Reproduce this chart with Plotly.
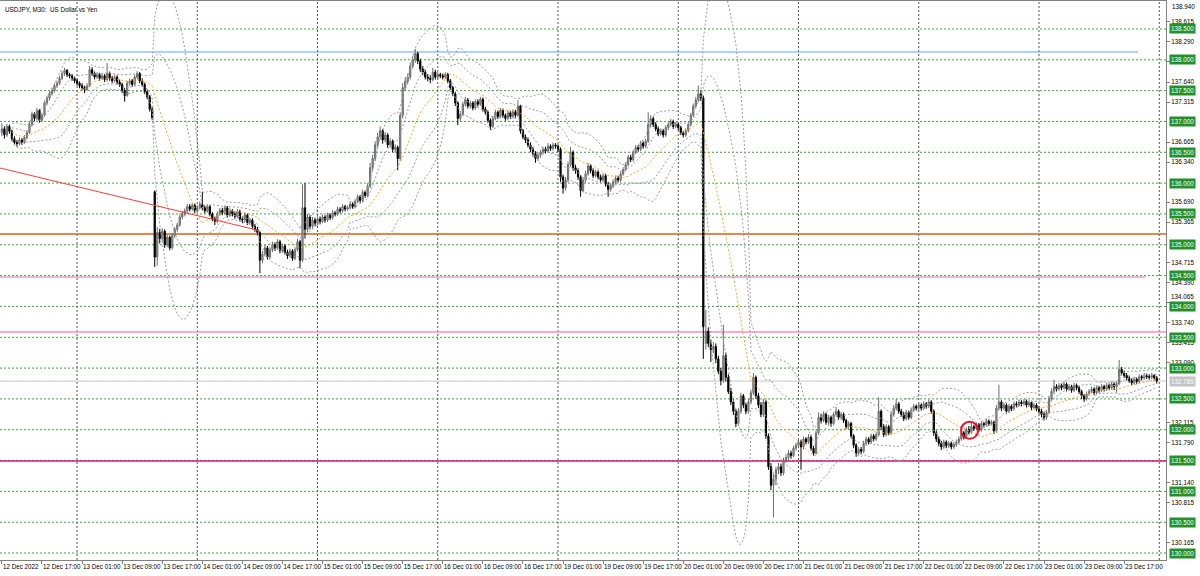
import pandas as pd
import plotly.graph_objects as go

# ---------------- data (USDJPY M30, 12 Dec 2022 09:00 -> 23 Dec 2022 23:30) ----------------
opens = [
    # 12 Dec
    136.82,136.88,136.78,136.92,136.84,136.72,136.66,136.64,136.70,136.66,
    136.74,136.82,136.95,137.12,137.05,137.18,137.02,137.10,137.30,137.38,
    137.45,137.50,137.58,137.62,137.70,137.78,137.83,137.76,137.74,137.70,
    # 13 Dec
    137.66,137.62,137.58,137.55,137.52,137.58,137.84,137.78,137.72,137.76,
    137.70,137.74,137.68,137.78,137.70,137.66,137.72,137.64,137.60,137.50,
    137.42,137.62,137.66,137.60,137.72,137.78,137.66,137.60,137.48,137.40,
    137.20,135.86,134.80,135.20,135.10,135.22,135.00,135.12,134.95,135.15,
    135.25,135.32,135.45,135.50,135.55,135.62,135.58,135.64,
    # 14 Dec
    135.55,135.60,
    135.66,135.60,135.55,135.62,135.50,135.42,135.38,135.50,135.56,135.52,
    135.60,135.48,135.55,135.50,135.46,135.54,135.42,135.40,135.48,135.36,
    135.40,135.30,135.25,135.20,134.75,134.85,134.95,134.80,134.92,135.00,
    134.95,135.05,134.90,134.98,134.88,134.82,134.90,134.78,134.92,135.05,
    134.75,135.60,135.25,135.45,135.30,135.40,
    # 15 Dec
    135.35,135.42,135.38,135.45,
    135.40,135.48,135.44,135.52,135.50,135.58,135.55,135.62,135.58,135.60,
    135.66,135.62,135.70,135.78,135.72,135.85,135.80,135.95,136.25,136.40,
    136.62,136.75,136.85,136.70,136.78,136.62,136.68,136.55,136.58,136.40,
    137.10,137.55,137.65,137.72,137.90,138.00,138.10,137.98,137.85,137.80,
    137.72,137.70,137.68,137.80,
    # 16 Dec
    137.72,137.76,137.74,137.72,137.76,137.66,
    137.55,137.45,137.30,137.05,137.12,137.28,137.35,137.25,137.30,137.22,
    137.32,137.28,137.36,137.20,137.15,137.02,136.92,137.05,137.15,137.08,
    137.18,137.10,137.05,137.14,137.08,137.16,137.10,137.25,136.85,136.75,
    136.70,136.62,136.55,136.48,136.40,136.45,136.50,136.55,136.52,136.60,
    136.56,136.62,
    # 19 Dec
    136.60,136.55,136.10,135.92,136.05,136.30,136.50,136.25,
    136.20,136.10,135.88,136.05,136.15,136.28,136.20,136.12,136.18,136.10,
    136.05,136.12,135.98,135.90,135.95,136.02,136.08,136.05,136.15,136.22,
    136.30,136.42,136.38,136.50,136.58,136.55,136.65,136.60,136.68,136.95,
    137.05,136.95,136.88,136.80,136.85,136.78,136.90,136.95,137.00,136.92,
    # 20 Dec
    136.95,136.90,136.82,136.78,136.85,136.95,137.10,137.25,137.35,137.45,
    137.38,133.40,133.60,133.40,133.30,133.35,133.15,132.95,132.80,133.20,
    132.85,132.62,132.45,132.30,132.10,132.30,132.55,132.40,132.30,132.45,
    132.60,132.85,132.55,132.40,132.25,132.45,131.90,131.40,131.10,131.20,
    131.35,131.40,131.30,131.50,131.55,131.62,131.58,131.70,
    # 21 Dec
    131.75,131.80,
    131.72,131.85,131.80,131.88,131.70,131.62,131.95,132.20,132.15,132.25,
    132.12,132.20,132.10,132.25,132.30,132.20,132.25,132.15,132.05,132.10,
    131.90,131.75,131.62,131.68,131.65,131.78,131.85,131.80,131.90,131.85,
    131.92,132.30,132.05,131.92,132.05,131.95,132.25,132.35,132.42,132.30,
    132.25,132.18,132.28,132.20,132.32,132.38,
    # 22 Dec
    132.35,132.40,132.35,132.42,
    132.38,132.45,132.30,131.95,131.85,131.78,131.72,131.80,131.74,131.78,
    131.72,131.76,131.80,131.85,131.95,131.88,132.00,131.96,132.05,132.02,
    132.08,132.00,132.10,132.08,132.14,132.10,132.12,131.98,132.35,132.45,
    132.35,132.40,132.30,132.38,132.34,132.42,132.40,132.45,132.42,132.46,
    132.40,132.44,132.36,132.40,
    # 23 Dec
    132.34,132.30,132.25,132.20,132.28,132.50,
    132.62,132.70,132.66,132.72,132.68,132.74,132.66,132.70,132.64,132.72,
    132.68,132.62,132.55,132.50,132.58,132.62,132.66,132.60,132.68,132.64,
    132.70,132.66,132.72,132.68,132.74,132.70,132.75,132.98,132.92,132.88,
    132.84,132.80,132.76,132.82,132.78,132.86,132.84,132.88,132.86,132.85,
    132.88,132.84,
]

closes = [
    # 12 Dec
    136.88,136.78,136.92,136.84,136.72,136.66,136.64,136.70,136.66,136.74,
    136.82,136.95,137.12,137.05,137.18,137.02,137.10,137.30,137.38,137.45,
    137.50,137.58,137.62,137.70,137.78,137.83,137.76,137.74,137.70,137.66,
    # 13 Dec
    137.62,137.58,137.55,137.52,137.58,137.84,137.78,137.72,137.76,137.70,
    137.74,137.68,137.78,137.70,137.66,137.72,137.64,137.60,137.50,137.42,
    137.62,137.66,137.60,137.72,137.78,137.66,137.60,137.48,137.40,137.20,
    137.06,134.80,135.20,135.10,135.22,135.00,135.12,134.95,135.15,135.25,
    135.32,135.45,135.50,135.55,135.62,135.58,135.64,135.55,
    # 14 Dec
    135.60,135.66,
    135.60,135.55,135.62,135.50,135.42,135.38,135.50,135.56,135.52,135.60,
    135.48,135.55,135.50,135.46,135.54,135.42,135.40,135.48,135.36,135.40,
    135.30,135.25,135.20,134.75,134.85,134.95,134.80,134.92,135.00,134.95,
    135.05,134.90,134.98,134.88,134.82,134.90,134.78,134.92,135.05,134.75,
    135.60,135.25,135.45,135.30,135.40,135.35,
    # 15 Dec
    135.42,135.38,135.45,135.40,
    135.48,135.44,135.52,135.50,135.58,135.55,135.62,135.58,135.60,135.66,
    135.62,135.70,135.78,135.72,135.85,135.80,135.95,136.25,136.40,136.62,
    136.75,136.85,136.70,136.78,136.62,136.68,136.55,136.58,136.40,137.10,
    137.55,137.65,137.72,137.90,138.00,138.10,137.98,137.85,137.80,137.72,
    137.70,137.68,137.80,137.72,
    # 16 Dec
    137.76,137.74,137.72,137.76,137.66,137.55,
    137.45,137.30,137.05,137.12,137.28,137.35,137.25,137.30,137.22,137.32,
    137.28,137.36,137.20,137.15,137.02,136.92,137.05,137.15,137.08,137.18,
    137.10,137.05,137.14,137.08,137.16,137.10,137.25,136.85,136.75,136.70,
    136.62,136.55,136.48,136.40,136.45,136.50,136.55,136.52,136.60,136.56,
    136.62,136.60,
    # 19 Dec
    136.55,136.10,135.92,136.05,136.30,136.50,136.25,136.20,
    136.10,135.88,136.05,136.15,136.28,136.20,136.12,136.18,136.10,136.05,
    136.12,135.98,135.90,135.95,136.02,136.08,136.05,136.15,136.22,136.30,
    136.42,136.38,136.50,136.58,136.55,136.65,136.60,136.68,136.95,137.05,
    136.95,136.88,136.80,136.85,136.78,136.90,136.95,137.00,136.92,136.95,
    # 20 Dec
    136.90,136.82,136.78,136.85,136.95,137.10,137.25,137.35,137.45,137.38,
    133.67,133.60,133.40,133.30,133.35,133.15,132.95,132.80,133.20,132.85,
    132.62,132.45,132.30,132.10,132.30,132.55,132.40,132.30,132.45,132.60,
    132.85,132.55,132.40,132.25,132.45,131.90,131.40,131.10,131.20,131.35,
    131.40,131.30,131.50,131.55,131.62,131.58,131.70,131.75,
    # 21 Dec
    131.80,131.72,
    131.85,131.80,131.88,131.70,131.62,131.95,132.20,132.15,132.25,132.12,
    132.20,132.10,132.25,132.30,132.20,132.25,132.15,132.05,132.10,131.90,
    131.75,131.62,131.68,131.65,131.78,131.85,131.80,131.90,131.85,131.92,
    132.30,132.05,131.92,132.05,131.95,132.25,132.35,132.42,132.30,132.25,
    132.18,132.28,132.20,132.32,132.38,132.35,
    # 22 Dec
    132.40,132.35,132.42,132.38,
    132.45,132.30,131.95,131.85,131.78,131.72,131.80,131.74,131.78,131.72,
    131.76,131.80,131.85,131.95,131.88,132.00,131.96,132.05,132.02,132.08,
    132.00,132.10,132.08,132.14,132.10,132.12,131.98,132.35,132.45,132.35,
    132.40,132.30,132.38,132.34,132.42,132.40,132.45,132.42,132.46,132.40,
    132.44,132.36,132.40,132.34,
    # 23 Dec
    132.30,132.25,132.20,132.28,132.50,132.62,
    132.70,132.66,132.72,132.68,132.74,132.66,132.70,132.64,132.72,132.68,
    132.62,132.55,132.50,132.58,132.62,132.66,132.60,132.68,132.64,132.70,
    132.66,132.72,132.68,132.74,132.70,132.75,132.98,132.92,132.88,132.84,
    132.80,132.76,132.82,132.78,132.86,132.84,132.88,132.86,132.85,132.88,
    132.84,132.79,
]

highs = [
    # 12 Dec
    136.97,136.92,136.96,136.95,136.87,136.76,136.70,136.74,136.73,136.78,
    136.86,136.99,137.16,137.15,137.22,137.20,137.14,137.34,137.42,137.49,
    137.55,137.62,137.66,137.74,137.82,137.87,137.85,137.79,137.77,137.73,
    # 13 Dec
    137.69,137.65,137.62,137.58,137.62,137.90,137.88,137.81,137.80,137.79,
    137.78,137.77,137.95,137.81,137.74,137.76,137.75,137.68,137.63,137.54,
    137.66,137.70,137.69,137.76,137.82,137.80,137.70,137.63,137.52,137.43,
    137.24,135.88,135.29,135.26,135.27,135.25,135.17,135.15,135.19,135.29,
    135.36,135.49,135.55,135.59,135.66,135.66,135.68,135.67,
    # 14 Dec
    135.64,135.70,
    135.86,135.64,135.66,135.65,135.53,135.46,135.54,135.60,135.60,135.64,
    135.63,135.59,135.58,135.54,135.58,135.57,135.46,135.52,135.51,135.44,
    135.43,135.34,135.29,135.22,134.90,135.00,134.98,134.96,135.05,135.04,
    135.09,135.08,135.02,135.01,134.92,134.94,134.93,134.96,135.10,135.08,
    135.98,136.00,135.50,135.48,135.45,135.44,
    # 15 Dec
    135.46,135.46,135.49,135.48,
    135.52,135.51,135.56,135.55,135.62,135.61,135.66,135.65,135.64,135.70,
    135.69,135.74,135.82,135.81,135.89,135.88,136.00,136.33,136.46,136.68,
    136.82,136.92,136.88,136.83,136.81,136.73,136.71,136.63,136.61,137.15,
    137.62,137.72,137.78,137.95,138.06,138.18,138.13,138.02,137.90,137.84,
    137.77,137.75,137.87,137.84,
    # 16 Dec
    137.80,137.79,137.78,137.80,137.79,137.69,
    137.58,137.48,137.33,137.17,137.32,137.40,137.38,137.34,137.33,137.36,
    137.36,137.40,137.39,137.24,137.18,137.05,137.09,137.19,137.18,137.22,
    137.21,137.13,137.18,137.17,137.20,137.19,137.35,137.27,136.88,136.79,
    136.74,136.66,136.59,136.52,136.50,136.54,136.59,136.59,136.65,136.63,
    136.66,136.65,
    # 19 Dec
    136.63,136.58,136.14,136.10,136.35,136.59,136.53,136.30,
    136.24,136.13,136.10,136.20,136.33,136.31,136.24,136.22,136.21,136.14,
    136.16,136.15,136.02,136.00,136.06,136.12,136.12,136.19,136.26,136.34,
    136.46,136.46,136.54,136.62,136.62,136.69,136.68,136.72,137.15,137.10,
    137.08,136.99,136.92,136.89,136.88,136.94,136.99,137.04,137.03,136.99,
    # 20 Dec
    136.98,136.93,136.85,136.89,136.99,137.14,137.29,137.40,137.58,137.50,
    137.42,133.94,133.66,133.46,133.42,133.40,133.20,133.00,133.70,133.25,
    132.90,132.68,132.50,132.34,132.35,132.60,132.58,132.44,132.50,132.65,
    132.92,132.88,132.60,132.45,132.50,132.48,131.94,131.46,131.28,131.40,
    131.46,131.45,131.55,131.60,131.67,131.66,131.74,131.79,
    # 21 Dec
    131.85,131.84,
    131.89,131.88,131.93,131.92,131.74,132.00,132.28,132.26,132.30,132.28,
    132.24,132.23,132.29,132.37,132.33,132.29,132.28,132.18,132.14,132.13,
    131.93,131.78,131.72,131.72,131.82,131.89,131.88,131.94,131.93,131.96,
    132.53,132.33,132.09,132.09,132.08,132.29,132.40,132.50,132.45,132.34,
    132.29,132.32,132.31,132.36,132.42,132.41,
    # 22 Dec
    132.44,132.43,132.46,132.45,
    132.49,132.48,132.33,131.99,131.89,131.82,131.84,131.83,131.82,131.81,
    131.80,131.84,131.89,131.99,131.98,132.04,132.06,132.12,132.08,132.12,
    132.11,132.14,132.13,132.18,132.17,132.16,132.15,132.40,132.73,132.48,
    132.44,132.43,132.42,132.41,132.46,132.46,132.49,132.48,132.50,132.49,
    132.48,132.47,132.44,132.43,
    # 23 Dec
    132.38,132.34,132.29,132.32,132.55,132.67,
    132.81,132.74,132.76,132.75,132.78,132.77,132.74,132.73,132.76,132.75,
    132.71,132.65,132.58,132.62,132.66,132.70,132.69,132.72,132.71,132.74,
    132.73,132.76,132.75,132.78,132.77,132.79,133.13,133.02,132.96,132.92,
    132.88,132.84,132.86,132.85,132.90,132.89,132.92,132.91,132.90,132.92,
    132.90,132.87,
]

lows = [
    # 12 Dec
    136.76,136.72,136.75,136.80,136.68,136.62,136.59,136.61,136.62,136.64,
    136.71,136.80,136.92,137.00,137.02,136.98,136.99,137.08,137.26,137.34,
    137.42,137.47,137.54,137.59,137.67,137.74,137.72,137.70,137.66,137.62,
    # 13 Dec
    137.58,137.54,137.50,137.46,137.49,137.56,137.74,137.68,137.69,137.66,
    137.67,137.64,137.65,137.66,137.62,137.63,137.60,137.56,137.46,137.32,
    137.40,137.58,137.56,137.58,137.69,137.62,137.56,137.44,137.36,137.16,
    137.02,134.64,134.66,135.02,135.05,134.95,134.96,134.91,134.92,135.11,
    135.21,135.29,135.41,135.46,135.51,135.54,135.55,135.51,
    # 14 Dec
    135.52,135.57,
    135.56,135.51,135.52,135.46,135.38,135.32,135.35,135.47,135.48,135.49,
    135.44,135.45,135.46,135.42,135.43,135.38,135.35,135.37,135.32,135.32,
    135.26,135.21,135.15,134.54,134.70,134.81,134.76,134.77,134.88,134.90,
    134.92,134.86,134.87,134.84,134.77,134.79,134.74,134.75,134.89,134.62,
    134.72,135.10,135.20,135.25,135.26,135.30,
    # 15 Dec
    135.31,135.33,135.35,135.36,
    135.37,135.40,135.41,135.46,135.47,135.51,135.52,135.54,135.55,135.57,
    135.58,135.59,135.67,135.68,135.69,135.76,135.77,135.92,136.20,136.36,
    136.58,136.70,136.64,136.66,136.57,136.58,136.50,136.49,136.21,136.36,
    137.05,137.50,137.60,137.68,137.86,137.95,137.93,137.80,137.75,137.68,
    137.65,137.62,137.65,137.68,
    # 16 Dec
    137.69,137.70,137.68,137.69,137.62,137.51,
    137.41,137.25,136.94,137.01,137.09,137.24,137.21,137.21,137.18,137.19,
    137.24,137.25,137.16,137.11,136.98,136.86,136.89,137.02,137.04,137.05,
    137.06,137.01,137.02,137.04,137.05,137.06,137.07,136.80,136.71,136.65,
    136.58,136.50,136.43,136.33,136.36,136.41,136.46,136.48,136.49,136.52,
    136.53,136.56,
    # 19 Dec
    136.50,136.02,135.83,135.88,136.02,136.26,136.20,136.15,
    136.05,135.78,135.85,136.01,136.12,136.16,136.08,136.09,136.06,136.01,
    136.02,135.94,135.78,135.86,135.92,135.98,136.01,136.02,136.12,136.19,
    136.27,136.34,136.35,136.47,136.51,136.52,136.56,136.57,136.65,136.90,
    136.91,136.84,136.76,136.77,136.74,136.75,136.86,136.92,136.88,136.89,
    # 20 Dec
    136.86,136.78,136.74,136.75,136.82,136.92,137.07,137.21,137.31,137.33,
    133.15,133.30,133.34,133.10,133.24,133.08,132.90,132.72,132.76,132.78,
    132.58,132.40,132.24,132.04,132.06,132.26,132.35,132.25,132.26,132.41,
    132.56,132.50,132.35,132.20,132.21,131.85,131.35,131.02,130.58,131.10,
    131.28,131.25,131.26,131.46,131.51,131.53,131.55,131.66,
    # 21 Dec
    131.70,131.35,
    131.68,131.76,131.77,131.66,131.58,131.60,131.92,132.10,132.12,132.08,
    132.08,132.05,132.07,132.21,132.16,132.16,132.11,132.01,132.01,131.86,
    131.70,131.56,131.58,131.60,131.62,131.74,131.76,131.77,131.81,131.82,
    131.89,132.00,131.88,131.89,131.91,131.92,132.21,132.31,132.26,132.21,
    132.14,132.15,132.16,132.17,132.29,132.31,
    # 22 Dec
    132.32,132.31,132.32,132.34,
    132.35,132.26,131.90,131.80,131.73,131.67,131.69,131.70,131.70,131.68,
    131.69,131.72,131.77,131.82,131.84,131.85,131.92,131.93,131.98,131.99,
    131.96,131.97,132.04,132.05,132.06,132.07,131.93,131.95,132.31,132.30,
    132.31,132.26,132.27,132.30,132.31,132.36,132.37,132.38,132.39,132.36,
    132.37,132.32,132.33,132.30,
    # 23 Dec
    132.26,132.20,132.15,132.16,132.25,132.46,
    132.58,132.62,132.63,132.64,132.65,132.62,132.63,132.60,132.61,132.64,
    132.58,132.50,132.45,132.47,132.55,132.59,132.56,132.57,132.60,132.61,
    132.62,132.63,132.64,132.65,132.64,132.60,132.72,132.88,132.84,132.80,
    132.76,132.72,132.73,132.74,132.75,132.80,132.81,132.82,132.81,132.82,
    132.80,132.75,
]

time_labels = ["12 Dec 2022", "12 Dec 17:00", "13 Dec 01:00", "13 Dec 09:00", "13 Dec 17:00",
               "14 Dec 01:00", "14 Dec 09:00", "14 Dec 17:00", "15 Dec 01:00", "15 Dec 09:00",
               "15 Dec 17:00", "16 Dec 01:00", "16 Dec 09:00", "16 Dec 17:00", "19 Dec 01:00",
               "19 Dec 09:00", "19 Dec 17:00", "20 Dec 01:00", "20 Dec 09:00", "20 Dec 17:00",
               "21 Dec 01:00", "21 Dec 09:00", "21 Dec 17:00", "22 Dec 01:00", "22 Dec 09:00",
               "22 Dec 17:00", "23 Dec 01:00", "23 Dec 09:00", "23 Dec 17:00"]
day_start_bars = [30, 78, 126, 174, 222, 270, 318, 366, 414, 462]

# right-axis price scale; the top value and the one sitting on the 134.000 box are
# written as labels nudged so they stay readable
top_price_label = "138.940"
nudged_label = ("134.065", 134.0)
price_tick_labels = ["138.615", "138.290", "137.965", "137.640", "137.315",
                     "136.665", "136.340", "135.690", "135.365", "134.715",
                     "134.390", "134.065", "133.740", "133.415", "133.090",
                     "132.115", "131.790", "131.140", "130.815", "130.165"]
round_levels = [138.5, 138.0, 137.5, 137.0, 136.5, 136.0, 135.5, 135.0, 134.5,
                134.0, 133.5, 133.0, 132.5, 132.0, 131.5, 131.0, 130.5, 130.0]
bid_price = 132.789

# horizontal objects: (price, colour, width, end bar or None for full width)
hlines = [
    (138.127, "#58a8f8", 1.2, 453.5),
    (135.175, "#d9620c", 1.5, None),
    (134.477, "#d070b0", 1.0, 456.3),
    (133.585, "#ff8ac8", 1.6, None),
    (131.493, "#e2157c", 1.6, None),
]
trend_start = (-0.76, 136.245)
trend_end = (101.7, 135.24)
circle_center = (386.3, 131.99)

# ---------------- figure ----------------
n = len(closes)
bars = list(range(n))
s = pd.Series(closes, dtype=float)
ma = s.rolling(20, min_periods=5).mean()
sd = s.rolling(20, min_periods=5).std(ddof=0)

FONT = "Liberation Sans"
FS = 6.3
DOT = "2px,2px"

fig = go.Figure()
for k in (2, 1, -1, -2):
    fig.add_trace(go.Scatter(x=bars, y=ma + k * sd, mode="lines",
                             line=dict(color="#9c9c9c", width=1, dash=DOT),
                             hoverinfo="skip", showlegend=False))
fig.add_trace(go.Scatter(x=bars, y=ma, mode="lines",
                         line=dict(color="#f4a52c", width=1, dash=DOT),
                         hoverinfo="skip", showlegend=False))
fig.add_trace(go.Candlestick(
    x=bars, open=opens, high=highs, low=lows, close=closes,
    increasing=dict(line=dict(color="#6c6c6c", width=1), fillcolor="#a8a8a8"),
    decreasing=dict(line=dict(color="#000000", width=1), fillcolor="#000000"),
    whiskerwidth=0, showlegend=False, hoverinfo="skip"))

shapes = []
for lv in round_levels:
    shapes.append(dict(type="line", xref="paper", x0=0, x1=1, yref="y", y0=lv, y1=lv,
                       line=dict(color="#3ca83c", width=1, dash=DOT), layer="below"))
for b in day_start_bars:
    shapes.append(dict(type="line", xref="x", x0=b, x1=b, yref="paper", y0=0, y1=1,
                       line=dict(color="#555555", width=1, dash=DOT), layer="below"))
shapes.append(dict(type="line", xref="paper", x0=0, x1=1, yref="y", y0=bid_price, y1=bid_price,
                   line=dict(color="#c8c8c8", width=1), layer="below"))
for price, col, w, end in hlines:
    if end is None:
        shapes.append(dict(type="line", xref="paper", x0=0, x1=1, yref="y", y0=price, y1=price,
                           line=dict(color=col, width=w), layer="below"))
    else:
        shapes.append(dict(type="line", xref="x", x0=-1, x1=end, yref="y", y0=price, y1=price,
                           line=dict(color=col, width=w), layer="below"))
shapes.append(dict(type="line", xref="x", yref="y", x0=trend_start[0], y0=trend_start[1],
                   x1=trend_end[0], y1=trend_end[1], line=dict(color="#ff3c3c", width=1)))
shapes.append(dict(type="circle", xref="x", yref="y",
                   x0=circle_center[0] - 3.4, x1=circle_center[0] + 3.4,
                   y0=circle_center[1] - 0.138, y1=circle_center[1] + 0.138,
                   line=dict(color="#e8102a", width=2)))

annotations = [dict(text="USDJPY, M30:  US Dollar vs Yen", xref="paper", yref="paper",
                    x=0, y=1, xshift=3, yshift=-3, xanchor="left", yanchor="top",
                    showarrow=False, font=dict(family=FONT, size=FS, color="#000000"))]
annotations.append(dict(text=top_price_label, xref="paper", yref="paper", x=1, y=1, xshift=4,
                        yshift=0, xanchor="left", yanchor="top", showarrow=False,
                        font=dict(family=FONT, size=FS, color="#000000")))
annotations.append(dict(text=nudged_label[0], xref="paper", yref="y", x=1, y=nudged_label[1],
                        xshift=4, yshift=5, xanchor="left", yanchor="bottom", showarrow=False,
                        borderpad=0, font=dict(family=FONT, size=FS, color="#000000")))
for lv in round_levels:
    annotations.append(dict(text=f"{lv:.3f}", xref="paper", yref="y", x=1, y=lv, xshift=3,
                            xanchor="left", yanchor="middle", showarrow=False,
                            bgcolor="#23902a", borderpad=1,
                            font=dict(family=FONT, size=FS, color="#ffffff")))
annotations.append(dict(text=f"{bid_price:.3f}", xref="paper", yref="y", x=1, y=bid_price, xshift=3,
                        xanchor="left", yanchor="middle", showarrow=False,
                        bgcolor="#c4c4c4", borderpad=1,
                        font=dict(family=FONT, size=FS, color="#ffffff")))

y_top = 138.954
y_bot = 129.887
fig.update_layout(
    width=1200, height=576,
    margin=dict(l=0, r=34, t=1, b=16, autoexpand=False),
    paper_bgcolor="#ffffff", plot_bgcolor="#ffffff",
    shapes=shapes, annotations=annotations, showlegend=False,
    xaxis=dict(range=[-0.76, 464.7], rangeslider=dict(visible=False),
               tickmode="array", tickvals=[16 * k for k in range(len(time_labels))],
               ticktext=time_labels, ticks="outside", ticklen=3, tickcolor="#808080",
               tickangle=0, automargin=False,
               ticklabelposition="outside right", tickfont=dict(family=FONT, size=FS, color="#000000"),
               showgrid=False, zeroline=False, showline=True, linecolor="#808080", mirror=True),
    yaxis=dict(range=[y_bot, y_top], side="right", automargin=False,
               tickmode="array", tickvals=[float(t) for t in price_tick_labels],
               ticktext=["" if t == nudged_label[0] else t for t in price_tick_labels],
               ticks="outside", ticklen=3, tickcolor="#808080",
               tickfont=dict(family=FONT, size=FS, color="#000000"),
               showgrid=False, zeroline=False, showline=True, linecolor="#808080", mirror=True),
)

fig.write_html("out.html", config={"displayModeBar": False},
               post_script="document.body.style.margin='0';")
